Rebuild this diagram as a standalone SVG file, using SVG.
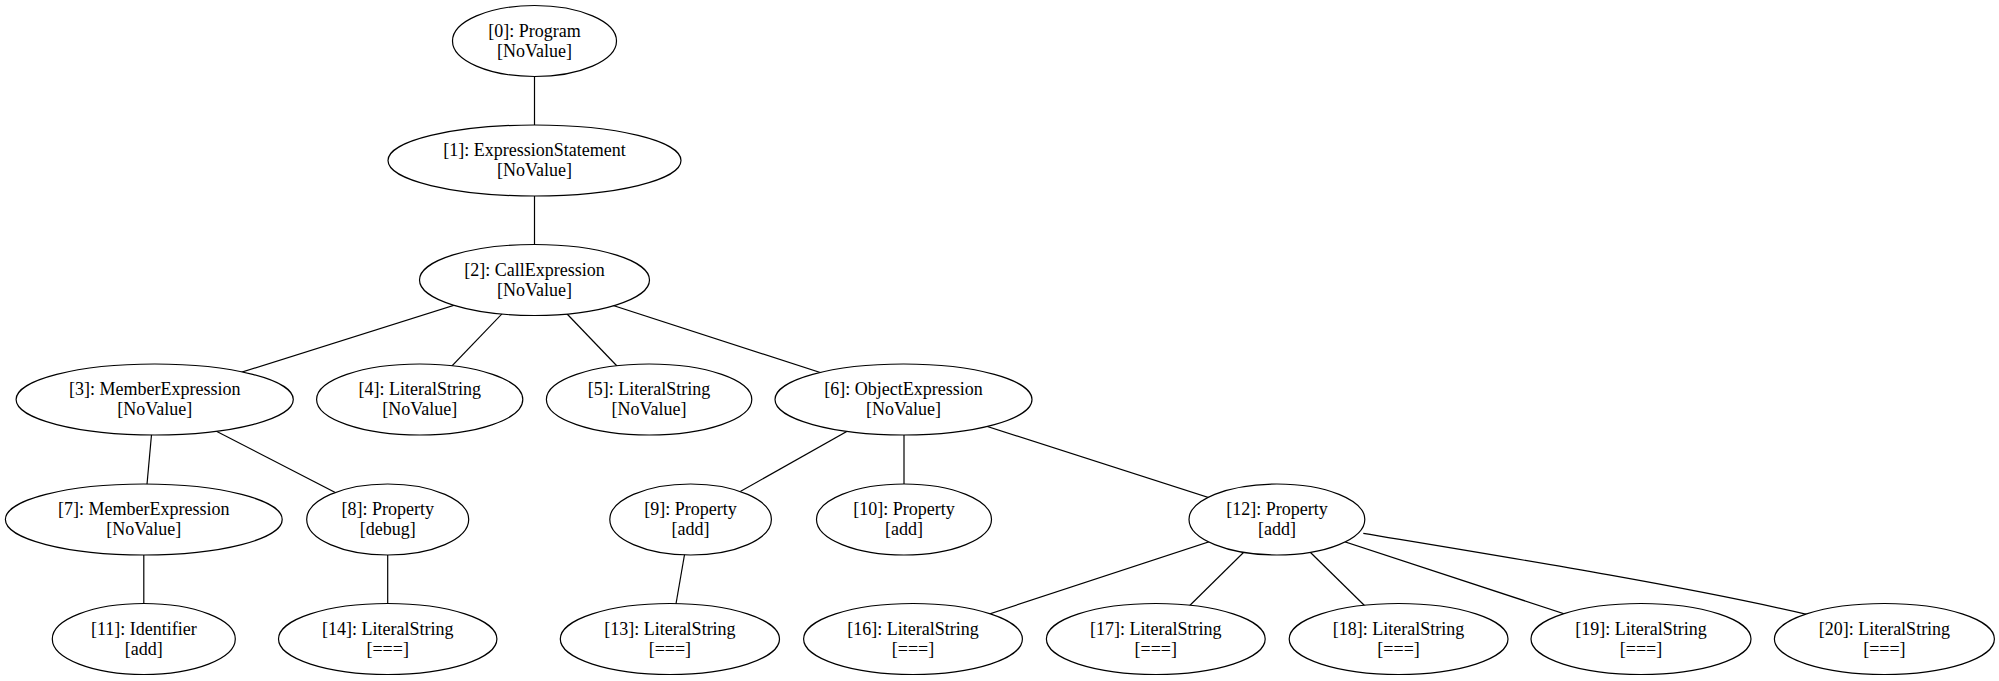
<svg xmlns="http://www.w3.org/2000/svg" width="1999" height="681" viewBox="0 0 1999 681">
  <style>
    .edge { fill: none; stroke: #000; stroke-width: 1.2; }
    .node ellipse { fill: #fff; stroke: #000; stroke-width: 1.2; }
    .node text { font-family: "Liberation Serif", "Times New Roman", serif; font-size: 18px; fill: #000; text-anchor: middle; }
  </style>
  <rect width="1999" height="681" fill="#fff"/>

  <!-- tree edges: drawn centre to centre, node fills hide the inner ends -->
  <g id="edges">
    <line class="edge" x1="534.5" y1="41" x2="534.5" y2="160.5"/>
    <line class="edge" x1="534.5" y1="160.5" x2="534.5" y2="280"/>
    <line class="edge" x1="534.5" y1="280" x2="154.7" y2="399.5"/>
    <line class="edge" x1="534.5" y1="280" x2="419.7" y2="399.5"/>
    <line class="edge" x1="534.5" y1="280" x2="649.1" y2="399.5"/>
    <line class="edge" x1="534.5" y1="280" x2="903.5" y2="399.5"/>
    <line class="edge" x1="154.7" y1="399.5" x2="143.8" y2="519.5"/>
    <line class="edge" x1="154.7" y1="399.5" x2="387.7" y2="519.5"/>
    <line class="edge" x1="903.5" y1="399.5" x2="690.6" y2="519.5"/>
    <line class="edge" x1="904" y1="399.5" x2="904" y2="519.5"/>
    <line class="edge" x1="903.5" y1="399.5" x2="1276.9" y2="519.5"/>
    <line class="edge" x1="143.8" y1="519.5" x2="143.8" y2="639"/>
    <line class="edge" x1="387.7" y1="519.5" x2="387.7" y2="639"/>
    <line class="edge" x1="690.6" y1="519.5" x2="669.9" y2="639"/>
    <line class="edge" x1="1276.9" y1="519.5" x2="913" y2="639"/>
    <line class="edge" x1="1276.9" y1="519.5" x2="1155.8" y2="639"/>
    <line class="edge" x1="1276.9" y1="519.5" x2="1398.6" y2="639"/>
    <line class="edge" x1="1276.9" y1="519.5" x2="1641" y2="639"/>
    <path class="edge" d="M1363.3,533.3 C1500,556 1680,585 1806.7,614.3"/>
  </g>

  <g id="node0" class="node"><ellipse cx="534.5" cy="41" rx="82" ry="35.5"/><text x="534.5" y="36.5">[0]: Program</text><text x="534.5" y="56.5">[NoValue]</text></g>
  <g id="node1" class="node"><ellipse cx="534.5" cy="160.5" rx="146.5" ry="35.5"/><text x="534.5" y="156">[1]: ExpressionStatement</text><text x="534.5" y="176">[NoValue]</text></g>
  <g id="node2" class="node"><ellipse cx="534.5" cy="280" rx="115" ry="35.5"/><text x="534.5" y="275.5">[2]: CallExpression</text><text x="534.5" y="295.5">[NoValue]</text></g>
  <g id="node3" class="node"><ellipse cx="154.7" cy="399.5" rx="138.6" ry="35.5"/><text x="154.7" y="395">[3]: MemberExpression</text><text x="154.7" y="415">[NoValue]</text></g>
  <g id="node4" class="node"><ellipse cx="419.7" cy="399.5" rx="103.1" ry="35.5"/><text x="419.7" y="395">[4]: LiteralString</text><text x="419.7" y="415">[NoValue]</text></g>
  <g id="node5" class="node"><ellipse cx="649.1" cy="399.5" rx="102.7" ry="35.5"/><text x="649.1" y="395">[5]: LiteralString</text><text x="649.1" y="415">[NoValue]</text></g>
  <g id="node6" class="node"><ellipse cx="903.5" cy="399.5" rx="128.5" ry="35.5"/><text x="903.5" y="395">[6]: ObjectExpression</text><text x="903.5" y="415">[NoValue]</text></g>
  <g id="node7" class="node"><ellipse cx="143.8" cy="519.5" rx="138.4" ry="35.5"/><text x="143.8" y="515">[7]: MemberExpression</text><text x="143.8" y="535">[NoValue]</text></g>
  <g id="node8" class="node"><ellipse cx="387.7" cy="519.5" rx="81" ry="35.5"/><text x="387.7" y="515">[8]: Property</text><text x="387.7" y="535">[debug]</text></g>
  <g id="node9" class="node"><ellipse cx="690.6" cy="519.5" rx="80.8" ry="35.5"/><text x="690.6" y="515">[9]: Property</text><text x="690.6" y="535">[add]</text></g>
  <g id="node10" class="node"><ellipse cx="904" cy="519.5" rx="87.5" ry="35.5"/><text x="904" y="515">[10]: Property</text><text x="904" y="535">[add]</text></g>
  <g id="node12" class="node"><ellipse cx="1276.9" cy="519.5" rx="87.9" ry="35.5"/><text x="1276.9" y="515">[12]: Property</text><text x="1276.9" y="535">[add]</text></g>
  <g id="node11" class="node"><ellipse cx="143.8" cy="639" rx="91.5" ry="35.5"/><text x="143.8" y="634.5">[11]: Identifier</text><text x="143.8" y="654.5">[add]</text></g>
  <g id="node14" class="node"><ellipse cx="387.7" cy="639" rx="109.2" ry="35.5"/><text x="387.7" y="634.5">[14]: LiteralString</text><text x="387.7" y="654.5">[===]</text></g>
  <g id="node13" class="node"><ellipse cx="669.9" cy="639" rx="109.6" ry="35.5"/><text x="669.9" y="634.5">[13]: LiteralString</text><text x="669.9" y="654.5">[===]</text></g>
  <g id="node16" class="node"><ellipse cx="913" cy="639" rx="109.4" ry="35.5"/><text x="913" y="634.5">[16]: LiteralString</text><text x="913" y="654.5">[===]</text></g>
  <g id="node17" class="node"><ellipse cx="1155.8" cy="639" rx="109.4" ry="35.5"/><text x="1155.8" y="634.5">[17]: LiteralString</text><text x="1155.8" y="654.5">[===]</text></g>
  <g id="node18" class="node"><ellipse cx="1398.6" cy="639" rx="109.4" ry="35.5"/><text x="1398.6" y="634.5">[18]: LiteralString</text><text x="1398.6" y="654.5">[===]</text></g>
  <g id="node19" class="node"><ellipse cx="1641" cy="639" rx="110" ry="35.5"/><text x="1641" y="634.5">[19]: LiteralString</text><text x="1641" y="654.5">[===]</text></g>
  <g id="node20" class="node"><ellipse cx="1884.4" cy="639" rx="110" ry="35.5"/><text x="1884.4" y="634.5">[20]: LiteralString</text><text x="1884.4" y="654.5">[===]</text></g>
</svg>
